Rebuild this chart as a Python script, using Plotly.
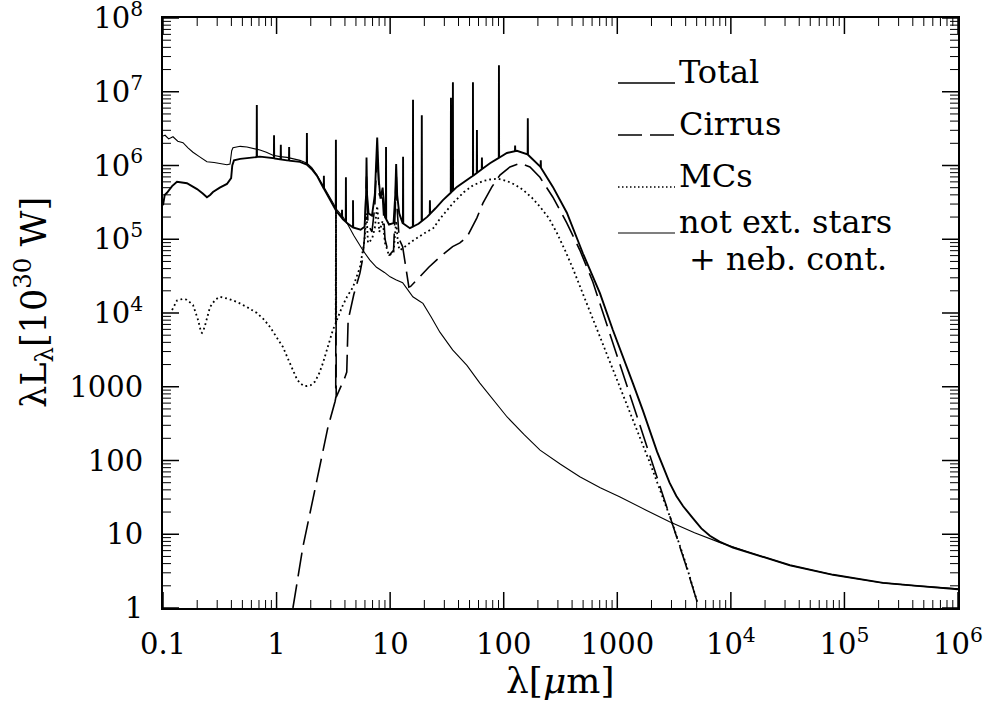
import numpy as np
import plotly.graph_objects as go

# ---------------------------------------------------------------------------
# Spectral energy distribution components.
# Values are log10(lambda / micron) and log10(lambda L_lambda / 1e30 W).
# ---------------------------------------------------------------------------

# Total emission (continuum + PAH bands); emission lines are added below
total_loglam = [-1.0, -0.985, -0.965, -0.92, -0.877, -0.83, -0.789, -0.745, -0.70, -0.65,
                -0.613, -0.585, -0.56, -0.50, -0.437, -0.40, -0.39, -0.375, -0.32, -0.26,
                -0.146, -0.032, 0.092, 0.206, 0.268, 0.31, 0.356, 0.40, 0.444, 0.49,
                0.532, 0.585, 0.62, 0.673, 0.74, 0.775, 0.788, 0.792, 0.797, 0.81,
                0.84, 0.865, 0.886, 0.90, 0.915, 0.934, 0.955, 0.99, 1.03, 1.045,
                1.053, 1.062, 1.08, 1.11, 1.174, 1.25, 1.324, 1.40, 1.465, 1.588,
                1.729, 1.879, 2.028, 2.116, 2.204, 2.319, 2.433, 2.556, 2.697, 2.847,
                2.961, 3.05, 3.137, 3.225, 3.287, 3.35, 3.40, 3.46, 3.52, 3.58,
                3.665, 3.74, 3.815, 3.90, 4.018, 4.17, 4.52, 4.90, 5.34, 5.64, 6.0]
total_logL = [5.46, 5.60, 5.63, 5.72, 5.78, 5.77, 5.76, 5.72, 5.68, 5.62,
              5.57, 5.60, 5.64, 5.70, 5.75, 5.83, 6.00, 6.07, 6.09, 6.10,
              6.12, 6.10, 6.07, 6.05, 6.01, 5.95, 5.86, 5.73, 5.61, 5.47,
              5.37, 5.27, 5.22, 5.16, 5.13, 5.17, 5.60, 6.11, 5.60, 5.35,
              5.32, 5.60, 6.38, 5.80, 5.55, 5.70, 5.30, 5.20, 5.22, 5.60,
              6.02, 5.60, 5.35, 5.22, 5.15, 5.21, 5.30, 5.42, 5.53, 5.71,
              5.86, 6.03, 6.17, 6.20, 6.16, 5.99, 5.71, 5.36, 4.81, 4.27,
              3.77, 3.42, 3.05, 2.68, 2.39, 2.12, 1.93, 1.70, 1.52, 1.38,
              1.22, 1.08, 0.98, 0.90, 0.82, 0.75, 0.58, 0.45, 0.34, 0.30, 0.255]

# Emission lines on top of the total spectrum: wavelength [micron], peak log10 L
line_lam = [0.67, 0.95, 1.09, 1.29, 1.85, 2.61, 3.33, 3.77, 4.08, 4.71,
            9.2, 13.0, 15.9, 19.0, 22.4, 34.3, 35.7, 53.6, 58.1, 64.3,
            90.8, 126.0, 163.0, 212.0]
line_peak = [6.82, 6.41, 6.28, 6.25, 6.44, 5.86, 6.35, 5.40, 5.84, 5.53,
             6.25, 6.12, 6.89, 6.68, 5.53, 6.92, 7.13, 7.13, 6.48, 6.11,
             7.36, 6.27, 6.64, 6.07]

# Diffuse dust (cirrus)
cirrus_loglam = [0.144, 0.232, 0.356, 0.452, 0.515, 0.521, 0.523, 0.525, 0.60, 0.618,
                 0.63, 0.68, 0.734, 0.76, 0.775, 0.792, 0.805, 0.84, 0.865, 0.886,
                 0.905, 0.934, 0.955, 0.99, 1.03, 1.045, 1.053, 1.062, 1.08, 1.11,
                 1.13, 1.155, 1.165, 1.18, 1.236, 1.34, 1.438, 1.55, 1.614, 1.676,
                 1.764, 1.817, 1.896, 1.967, 2.055, 2.143, 2.231, 2.319, 2.433, 2.556,
                 2.671, 2.785, 2.90, 3.0, 3.1, 3.2, 3.287, 3.4, 3.48, 3.6, 3.71]
cirrus_logL = [0.0, 0.83, 1.74, 2.45, 2.80, 2.85, 5.60, 2.86, 3.12, 3.20,
               3.90, 4.25, 4.54, 4.75, 5.05, 5.85, 5.20, 5.10, 5.45, 6.20,
               5.60, 5.55, 5.00, 4.78, 4.85, 5.40, 5.95, 5.40, 5.00, 4.90,
               4.70, 4.40, 4.35, 4.36, 4.45, 4.62, 4.76, 4.90, 4.95, 5.03,
               5.29, 5.49, 5.71, 5.87, 5.98, 6.03, 5.98, 5.84, 5.57, 5.22,
               4.85, 4.42, 3.88, 3.41, 2.95, 2.48, 2.07, 1.54, 1.17, 0.60, 0.05]

# Molecular clouds (MCs)
mc_loglam = [-0.92, -0.877, -0.83, -0.79, -0.736, -0.71, -0.69, -0.665, -0.657, -0.645,
             -0.63, -0.586, -0.54, -0.498, -0.42, -0.349, -0.26, -0.173, -0.11, -0.058,
             0.0, 0.056, 0.10, 0.144, 0.18, 0.206, 0.24, 0.268, 0.30, 0.338,
             0.375, 0.408, 0.45, 0.496, 0.515, 0.521, 0.523, 0.525, 0.53, 0.576,
             0.62, 0.673, 0.734, 0.76, 0.775, 0.792, 0.805, 0.84, 0.865, 0.886,
             0.905, 0.934, 0.955, 0.99, 1.03, 1.053, 1.07, 1.086, 1.20, 1.30,
             1.38, 1.44, 1.553, 1.65, 1.729, 1.82, 1.879, 1.95, 2.028, 2.10,
             2.17, 2.25, 2.32, 2.40, 2.47, 2.54, 2.61, 2.70, 2.80, 2.90,
             3.0, 3.1, 3.2, 3.287, 3.4, 3.48, 3.6, 3.71]
mc_logL = [4.04, 4.17, 4.19, 4.18, 4.11, 4.00, 3.90, 3.74, 3.73, 3.76,
           3.83, 4.08, 4.18, 4.22, 4.19, 4.15, 4.08, 4.00, 3.91, 3.81,
           3.68, 3.54, 3.38, 3.23, 3.10, 3.05, 3.01, 3.01, 3.02, 3.07,
           3.18, 3.32, 3.55, 3.77, 3.84, 3.86, 5.50, 3.87, 3.90, 4.08,
           4.22, 4.35, 4.62, 4.85, 5.00, 5.35, 4.95, 5.00, 5.15, 5.45,
           5.10, 5.25, 4.95, 4.78, 4.82, 5.25, 4.92, 4.85, 4.98, 5.08,
           5.15, 5.28, 5.49, 5.64, 5.73, 5.79, 5.81, 5.82, 5.79, 5.74,
           5.67, 5.56, 5.44, 5.28, 5.08, 4.85, 4.60, 4.25, 3.86, 3.47,
           3.08, 2.70, 2.32, 1.97, 1.50, 1.17, 0.62, 0.05]

# Unextinguished stars + nebular continuum
stars_loglam = [-1.0, -0.982, -0.95, -0.912, -0.87, -0.824, -0.78, -0.736, -0.68, -0.613,
                -0.55, -0.50, -0.437, -0.41, -0.395, -0.384, -0.32, -0.261, -0.20, -0.146,
                -0.09, -0.032, 0.03, 0.092, 0.15, 0.206, 0.268, 0.31, 0.356, 0.40,
                0.444, 0.49, 0.532, 0.585, 0.62, 0.68, 0.76, 0.82, 0.88, 0.95,
                1.0, 1.05, 1.11, 1.148, 1.20, 1.26, 1.289, 1.36, 1.438, 1.55,
                1.676, 1.79, 1.90, 2.03, 2.18, 2.32, 2.50, 2.67, 2.85, 3.02,
                3.25, 3.46, 3.68, 3.90, 4.17, 4.52, 4.90, 5.34, 5.64, 6.0]
stars_logL = [6.40, 6.41, 6.36, 6.39, 6.33, 6.31, 6.24, 6.18, 6.12, 6.05,
              6.04, 6.03, 6.01, 6.02, 6.20, 6.24, 6.26, 6.25, 6.23, 6.21,
              6.18, 6.14, 6.12, 6.11, 6.09, 6.07, 6.03, 5.97, 5.87, 5.75,
              5.63, 5.52, 5.40, 5.30, 5.22, 5.05, 4.85, 4.72, 4.62, 4.55,
              4.49, 4.45, 4.41, 4.33, 4.22, 4.16, 4.13, 3.95, 3.74, 3.50,
              3.29, 3.05, 2.84, 2.59, 2.35, 2.14, 1.95, 1.78, 1.63, 1.51,
              1.33, 1.17, 1.02, 0.89, 0.75, 0.58, 0.45, 0.34, 0.30, 0.26]

# Axis tick labels
x_tickvals = [0.1, 1, 10, 100, 1000, 1e4, 1e5, 1e6]
x_ticktext = ["0.1", "1", "10", "100", "1000", "10<sup>4</sup>", "10<sup>5</sup>", "10<sup>6</sup>"]
y_tickvals = [1, 10, 100, 1000, 1e4, 1e5, 1e6, 1e7, 1e8]
y_ticktext = ["1", "10", "100", "1000", "10<sup>4</sup>", "10<sup>5</sup>",
              "10<sup>6</sup>", "10<sup>7</sup>", "10<sup>8</sup>"]

legend_labels = ["Total", "Cirrus", "MCs", "not ext. stars", "+ neb. cont."]


def with_lines(loglam, logL, lam, peak, hw=0.0015):
    """Insert narrow emission lines into a log-log spectrum."""
    x = np.asarray(loglam, float)
    y = np.asarray(logL, float)
    lx = np.log10(np.asarray(lam, float))
    ex = np.concatenate([lx - hw, lx, lx + hw])
    ey = np.concatenate([np.interp(lx - hw, x, y), np.asarray(peak, float),
                         np.interp(lx + hw, x, y)])
    X = np.concatenate([x, ex])
    Y = np.concatenate([y, ey])
    order = np.argsort(X, kind="stable")
    return 10 ** X[order], 10 ** Y[order]


def lin(loglam, logL):
    return 10 ** np.asarray(loglam, float), 10 ** np.asarray(logL, float)


FONT = "DejaVu Serif"
INK = "black"

# plot area in pixels and axis ranges (decades)
L, R, T, B = 163, 958, 18, 608
W, H = 987, 702
X_RANGE = (-1, 6)
Y_RANGE = (0, 8)
X_DEC_PX = (R - L) / (X_RANGE[1] - X_RANGE[0])   # pixels per decade along x
Y_DEC_PX = (B - T) / (Y_RANGE[1] - Y_RANGE[0])   # pixels per decade along y


def px_x(px):
    return (px - L) / (R - L)


def px_y(py):
    return (B - py) / (B - T)


fig = go.Figure()

sx, sy = lin(stars_loglam, stars_logL)
fig.add_trace(go.Scatter(x=sx, y=sy, mode="lines", line=dict(color=INK, width=1.1),
                         name="stars", showlegend=False, hoverinfo="skip"))
cx, cy = lin(cirrus_loglam, cirrus_logL)
fig.add_trace(go.Scatter(x=cx, y=cy, mode="lines",
                         line=dict(color=INK, width=1.6, dash="24px,8px"),
                         name="Cirrus", showlegend=False))
mx, my = lin(mc_loglam, mc_logL)
fig.add_trace(go.Scatter(x=mx, y=my, mode="lines",
                         line=dict(color=INK, width=1.8, dash="1.8px,3px"),
                         name="MCs", showlegend=False))
tx, ty = with_lines(total_loglam, total_logL, line_lam, line_peak)
fig.add_trace(go.Scatter(x=tx, y=ty, mode="lines", line=dict(color=INK, width=1.9),
                         name="Total", showlegend=False))

# inward tick marks on all four sides: major decades + minor 2..9 ticks,
# drawn as short line segments on the log axes
minor_x = [m * 10.0 ** d for d in range(X_RANGE[0], X_RANGE[1]) for m in range(2, 10)]
minor_y = [m * 10.0 ** d for d in range(Y_RANGE[0], Y_RANGE[1]) for m in range(2, 10)]


def x_tick_segments(vals, length_px):
    dec = length_px / Y_DEC_PX
    xs, ys = [], []
    for v in vals:
        xs += [v, v, None, v, v, None]
        ys += [10.0 ** Y_RANGE[0], 10.0 ** (Y_RANGE[0] + dec), None,
               10.0 ** Y_RANGE[1], 10.0 ** (Y_RANGE[1] - dec), None]
    return xs, ys


def y_tick_segments(vals, length_px):
    dec = length_px / X_DEC_PX
    xs, ys = [], []
    for v in vals:
        ys += [v, v, None, v, v, None]
        xs += [10.0 ** X_RANGE[0], 10.0 ** (X_RANGE[0] + dec), None,
               10.0 ** X_RANGE[1], 10.0 ** (X_RANGE[1] - dec), None]
    return xs, ys


for segs, width in [(x_tick_segments(x_tickvals, 16), 1.5),
                    (x_tick_segments(minor_x, 8), 1.0),
                    (y_tick_segments(y_tickvals, 16), 1.5),
                    (y_tick_segments(minor_y, 8), 1.0)]:
    fig.add_trace(go.Scatter(x=segs[0], y=segs[1], mode="lines", connectgaps=False,
                             line=dict(color=INK, width=width), showlegend=False,
                             hoverinfo="skip", cliponaxis=False))

axis_common = dict(type="log", showgrid=False, zeroline=False, showline=True,
                   linecolor=INK, linewidth=2, mirror=True, ticks="",
                   automargin=False, ticklabeloverflow="allow", tickmode="array",
                   tickfont=dict(family=FONT, size=29, color=INK))

fig.update_layout(
    template="none",
    width=W, height=H,
    margin=dict(l=L, r=W - R, t=T, b=H - B),
    paper_bgcolor="white", plot_bgcolor="white",
    font=dict(family=FONT, color=INK),
    showlegend=False,
    xaxis=dict(range=list(X_RANGE), tickvals=x_tickvals, ticktext=x_ticktext,
               ticklabelstandoff=9, **axis_common),
    yaxis=dict(range=list(Y_RANGE), tickvals=y_tickvals, ticktext=y_ticktext,
               ticklabelstandoff=12, **axis_common),
)

annotations = [
    dict(text="λ[<i>μ</i>m]", x=px_x(560), y=px_y(680), xref="paper", yref="paper",
         xanchor="center", yanchor="middle", showarrow=False,
         font=dict(family=FONT, size=36, color=INK)),
    dict(text="λL<sub>λ</sub>[10<sup>30</sup> W]", x=px_x(33), y=px_y(303),
         xref="paper", yref="paper", xanchor="center", yanchor="middle",
         textangle=-90, showarrow=False, font=dict(family=FONT, size=35, color=INK)),
]

# legend: line sample sitting on the text baseline, label to the right
legend_rows = [(83, "solid", 1.7), (135, "24px,8px", 1.6), (187, "1.5px,2.5px", 1.6),
               (233, "solid", 1.1)]
shapes = []
for (base, dash, width), label in zip(legend_rows, legend_labels[:4]):
    shapes.append(dict(type="line", xref="paper", yref="paper",
                       x0=px_x(618), x1=px_x(675), y0=px_y(base), y1=px_y(base),
                       line=dict(color=INK, width=width, dash=dash)))
    annotations.append(dict(text=label, x=px_x(677), y=px_y(base - 11), xref="paper",
                            yref="paper", xanchor="left", yanchor="middle",
                            showarrow=False, font=dict(family=FONT, size=32, color=INK)))
annotations.append(dict(text=legend_labels[4], x=px_x(687), y=px_y(259), xref="paper",
                        yref="paper", xanchor="left", yanchor="middle", showarrow=False,
                        font=dict(family=FONT, size=32, color=INK)))

fig.update_layout(annotations=annotations, shapes=shapes)

fig.write_html("out.html")
